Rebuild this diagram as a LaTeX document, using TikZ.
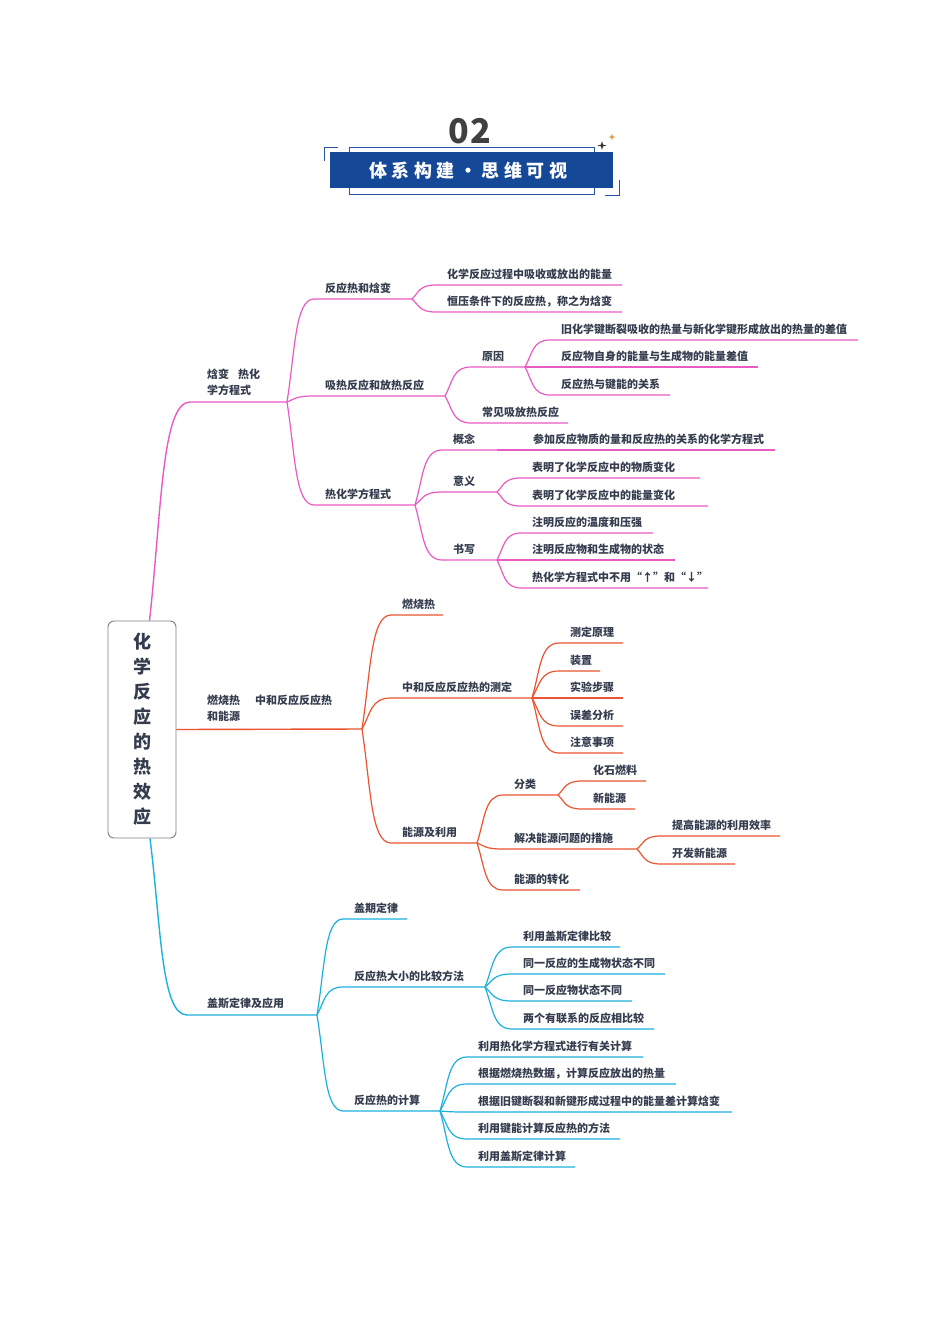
\documentclass[tikz,border=0pt]{standalone}
\usepackage{fontspec}
\setmainfont{Noto Sans CJK SC}
\usetikzlibrary{calc}
\definecolor{pkc}{RGB}{232,90,196}
\definecolor{orc}{RGB}{234,84,48}
\definecolor{cyc}{RGB}{28,176,222}
\definecolor{txc}{RGB}{52,60,78}
\definecolor{hdblue}{RGB}{22,72,152}
\definecolor{hdline}{RGB}{40,84,160}
\definecolor{hdgray}{RGB}{64,64,64}
\definecolor{stargold}{RGB}{222,150,60}
\newcommand\kid[7]{%
  \coordinate (#2s) at (#4-11,#5);
  \coordinate (#2e) at (#6,#5);
  \node[txt,anchor=west] (#2) at (#4,#5-10.5) {#7};
  \draw[#1] (#3) to[br] (#2s) -- (#2e);
}
\begin{document}
\begin{tikzpicture}[x=1pt,y=-1pt,
  txt/.style={inner sep=0pt,font=\fontsize{11}{16}\selectfont\bfseries,text=txc,align=left},
  br/.style={to path={let \p1=(\tikztostart),\p2=(\tikztotarget) in
     .. controls ({\x1+0.3*(\x2-\x1)},{\y1+0.5*(\y2-\y1)}) and ({\x1+0.3*(\x2-\x1)},{\y2}) .. (\tikztotarget)}},
  pk/.style={draw=pkc,line width=1.2pt},
  or/.style={draw=orc,line width=1.2pt},
  cy/.style={draw=cyc,line width=1.2pt},
  mainline/.style={line width=1.4pt},
  hd/.style={draw=hdline,line width=0.9pt}]
\useasboundingbox (0,0) rectangle (950,1344);
\fill[white] (0,0) rectangle (950,1344);

% ---------- header ----------
\node[font=\fontsize{34}{34}\selectfont\bfseries,text=hdgray,inner sep=0pt] (num) at (470,131) {0\kern2pt 2};
\draw[hd,fill=white] (349,147) rectangle (594,194);
\node[fill=hdblue,minimum width=283pt,minimum height=36pt,inner sep=0pt] (title) at (471.5,170) {};
\node[font=\fontsize{18}{18}\selectfont\bfseries\addfontfeatures{LetterSpace=25},text=white,inner sep=0pt] (titletext) at (468,171) {体系构建・思维可视};
\draw[hd] (324,161) -- (324,147) -- (338,147);
\draw[hd] (605,195) -- (619,195) -- (619,180);
\fill[hdgray!80!black] (602,141) -- (603,144.6) -- (606.5,145.5) -- (603,146.4) -- (602,150) -- (601,146.4) -- (597.5,145.5) -- (601,144.6) -- cycle;
\fill[stargold] (612,133.5) -- (612.8,136.2) -- (615.5,137) -- (612.8,137.8) -- (612,140.5) -- (611.2,137.8) -- (608.5,137) -- (611.2,136.2) -- cycle;

% ---------- root ----------
\node[draw=black!50,line width=0.9pt,rounded corners=6pt,fill=white,minimum width=68pt,minimum height=217pt,inner sep=0pt,
      font=\fontsize{18}{25}\selectfont\bfseries,text=txc,align=center] (root) at (142,729.5)
      {化\\学\\反\\应\\的\\热\\效\\应};
\coordinate (rt) at ([xshift=7.5pt]root.north);
\coordinate (rb) at ([xshift=8pt]root.south);

% ---------- pink branch ----------
\coordinate (L1s) at (190,402);
\coordinate (L1e) at (287,402);
\node[txt,anchor=west] (L1) at (207,382) {焓变\hspace{9pt}热化\\学方程式};
\draw[pk,mainline] (rt) to[br] (L1s) -- (L1e);

\kid{pk}{A1}{L1e}{325}{299}{412}{反应热和焓变}
\kid{pk}{A1a}{A1e}{447}{285}{622}{化学反应过程中吸收或放出的能量}
\kid{pk}{A1b}{A1e}{447}{312}{622}{恒压条件下的反应热，称之为焓变}
\kid{pk}{A2}{L1e}{325}{396}{445}{吸热反应和放热反应}
\kid{pk}{A2a}{A2e}{482}{367}{525}{原因}
\kid{pk}{A2a1}{A2ae}{561}{340}{858}{旧化学键断裂吸收的热量与新化学键形成放出的热量的差值}
\kid{pk}{A2a2}{A2ae}{561}{367}{758}{反应物自身的能量与生成物的能量差值}
\kid{pk}{A2a3}{A2ae}{561}{395}{670}{反应热与键能的关系}
\kid{pk}{A2b}{A2e}{482}{423}{568}{常见吸放热反应}
\kid{pk}{A3}{L1e}{325}{505}{415}{热化学方程式}
\kid{pk}{A3a}{A3e}{453}{450}{497}{概念}
\kid{pk}{A3a1}{A3ae}{533}{450}{775}{参加反应物质的量和反应热的关系的化学方程式}
\kid{pk}{A3b}{A3e}{453}{492}{497}{意义}
\kid{pk}{A3b1}{A3be}{532}{478}{700}{表明了化学反应中的物质变化}
\kid{pk}{A3b2}{A3be}{532}{506}{708}{表明了化学反应中的能量变化}
\kid{pk}{A3c}{A3e}{453}{560}{497}{书写}
\kid{pk}{A3c1}{A3ce}{532}{533}{653}{注明反应的温度和压强}
\kid{pk}{A3c2}{A3ce}{532}{560}{675}{注明反应物和生成物的状态}
\kid{pk}{A3c3}{A3ce}{532}{588}{708}{热化学方程式中不用“↑”和“↓”}

% ---------- orange branch ----------
\coordinate (L2e) at (362,729);
\node[txt,anchor=west] (L2) at (207,708) {燃烧热\hspace{15pt}中和反应反应热\\和能源};
\draw[or,mainline] (root.east) -- (L2e);

\kid{or}{B1}{L2e}{402}{615}{443}{燃烧热}
\kid{or}{B2}{L2e}{402}{698}{532}{中和反应反应热的测定}
\kid{or}{B2a}{B2e}{570}{643}{623}{测定原理}
\kid{or}{B2b}{B2e}{570}{671}{600}{装置}
\kid{or}{B2c}{B2e}{570}{698}{623}{实验步骤}
\kid{or}{B2d}{B2e}{570}{726}{623}{误差分析}
\kid{or}{B2f}{B2e}{570}{753}{623}{注意事项}
\kid{or}{B3}{L2e}{402}{843}{477}{能源及利用}
\kid{or}{B3a}{B3e}{514}{795}{558}{分类}
\kid{or}{B3a1}{B3ae}{593}{781}{646}{化石燃料}
\kid{or}{B3a2}{B3ae}{593}{809}{635}{新能源}
\kid{or}{B3b}{B3e}{514}{849}{637}{解决能源问题的措施}
\kid{or}{B3b1}{B3be}{672}{836}{780}{提高能源的利用效率}
\kid{or}{B3b2}{B3be}{672}{864}{735}{开发新能源}
\kid{or}{B3c}{B3e}{514}{890}{580}{能源的转化}

% ---------- cyan branch ----------
\coordinate (L3s) at (187,1015);
\coordinate (L3e) at (317,1015);
\node[txt,anchor=west] (L3) at (207,1003) {盖斯定律及应用};
\draw[cy,mainline] (rb) to[br] (L3s) -- (L3e);

\kid{cy}{C1}{L3e}{354}{919}{407}{盖期定律}
\kid{cy}{C2}{L3e}{354}{987}{485}{反应热大小的比较方法}
\kid{cy}{C2a}{C2e}{523}{947}{620}{利用盖斯定律比较}
\kid{cy}{C2b}{C2e}{523}{974}{665}{同一反应的生成物状态不同}
\kid{cy}{C2c}{C2e}{523}{1001}{632}{同一反应物状态不同}
\kid{cy}{C2d}{C2e}{523}{1029}{654}{两个有联系的反应相比较}
\kid{cy}{C3}{L3e}{354}{1111}{440}{反应热的计算}
\kid{cy}{C3a}{C3e}{478}{1057}{643}{利用热化学方程式进行有关计算}
\kid{cy}{C3b}{C3e}{478}{1084}{676}{根据燃烧热数据，计算反应放出的热量}
\kid{cy}{C3c}{C3e}{478}{1112}{732}{根据旧键断裂和新键形成过程中的能量差计算焓变}
\kid{cy}{C3d}{C3e}{478}{1139}{620}{利用键能计算反应热的方法}
\kid{cy}{C3f}{C3e}{478}{1167}{575}{利用盖斯定律计算}
\end{tikzpicture}
\end{document}
